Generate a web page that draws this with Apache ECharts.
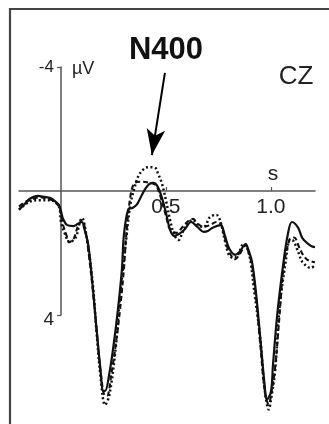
<!DOCTYPE html>
<html>
<head>
<meta charset="utf-8">
<script src="https://cdn.jsdelivr.net/npm/echarts@6/dist/echarts.min.js"></script>
<style>
html,body{margin:0;padding:0;background:#fff;}
#chart{width:329px;height:424px;}
</style>
</head>
<body>
<div id="chart"></div>
<script>
// time in seconds, amplitude in µV (negative up)
const solidTime = [-0.20,-0.17,-0.15,-0.11,-0.08,-0.05,-0.03,-0.01,0.00,0.01,0.03,0.06,0.08,0.10,0.11,0.13,0.15,0.17,0.19,0.20,0.21,0.23,0.25,0.27,0.29,0.30,0.32,0.34,0.36,0.38,0.40,0.42,0.44,0.46,0.48,0.50,0.52,0.54,0.57,0.59,0.62,0.65,0.68,0.70,0.72,0.76,0.78,0.80,0.83,0.85,0.88,0.89,0.91,0.93,0.95,0.97,0.98,1.00,1.01,1.03,1.06,1.08,1.10,1.13,1.15,1.19,1.21];
const solidUV   = [0.6,0.4,0.26,0.16,0.19,0.23,0.32,0.45,0.65,0.9,1.1,1.13,1.06,1.0,1.19,1.74,3.0,4.5,5.9,6.45,6.45,5.9,5.0,3.9,2.55,1.4,0.6,0.55,0.45,0.2,-0.05,-0.22,-0.26,-0.15,0.2,0.7,1.26,1.45,1.35,1.23,1.0,1.16,1.32,1.29,1.19,1.1,1.42,1.84,2.06,1.97,1.71,1.84,2.29,3.35,4.8,6.26,6.74,6.48,5.6,4.0,2.29,1.42,1.0,1.19,1.52,1.77,1.81];

const dashedTime = [-0.20,-0.17,-0.13,-0.10,-0.07,-0.04,-0.01,0.01,0.03,0.04,0.06,0.08,0.10,0.12,0.13,0.15,0.17,0.19,0.21,0.22,0.24,0.26,0.28,0.30,0.31,0.33,0.35,0.38,0.42,0.45,0.47,0.50,0.52,0.55,0.58,0.61,0.63,0.65,0.68,0.71,0.74,0.76,0.78,0.80,0.83,0.85,0.88,0.89,0.91,0.93,0.95,0.97,0.99,1.00,1.02,1.04,1.06,1.09,1.11,1.14,1.17,1.21];
const dashedUV   = [0.5,0.35,0.25,0.2,0.25,0.3,0.5,1.1,1.5,1.65,1.55,1.15,0.95,1.4,1.9,3.1,4.5,5.9,6.6,6.6,5.9,5.0,3.9,2.5,1.5,0.2,-0.25,-0.3,-0.27,-0.2,0.1,0.8,1.25,1.35,1.15,0.95,0.9,1.05,1.15,1.1,1.0,1.05,1.5,1.95,2.2,2.05,1.75,1.9,2.4,3.5,5.0,6.4,6.9,6.6,5.7,4.1,2.5,1.55,1.5,1.9,2.2,2.3];

const dottedTime = [-0.20,-0.15,-0.11,-0.05,-0.01,0.00,0.02,0.04,0.07,0.09,0.10,0.12,0.15,0.17,0.19,0.21,0.23,0.26,0.28,0.31,0.33,0.35,0.37,0.40,0.42,0.45,0.46,0.48,0.50,0.52,0.54,0.56,0.58,0.60,0.63,0.65,0.68,0.71,0.74,0.76,0.78,0.80,0.82,0.84,0.87,0.88,0.90,0.92,0.95,0.97,0.99,1.00,1.02,1.04,1.07,1.09,1.10,1.13,1.15,1.19,1.21];
const dottedUV   = [0.6,0.35,0.3,0.3,0.5,1.0,1.4,1.65,1.5,1.0,0.87,1.4,2.9,4.6,6.1,6.9,6.6,5.1,3.5,1.6,0.45,-0.1,-0.5,-0.74,-0.77,-0.74,-0.6,-0.26,0.3,0.95,1.42,1.58,1.32,1.06,0.94,1.1,1.16,0.84,0.77,1.0,1.58,2.06,2.16,2.1,1.71,1.74,2.16,3.2,4.8,6.4,7.05,6.74,5.8,3.84,2.29,1.58,1.58,1.97,2.29,2.48,2.4];

const xTickValues = [0.5, 1.0];
const yTickValues = [-4, 4];

function zip(t, v) { return t.map((x, i) => [x, v[i]]); }

const chart = echarts.init(document.getElementById('chart'), null, {renderer: 'canvas'});
const FONT = '"Liberation Sans", Arial, Helvetica, sans-serif';
const lineCol = '#111';

const G = {left: 19, right: 14, top: 67, bottom: 109};
const W = 329, H = 424;
const xMin = -0.2, xMax = 1.21, yMin = -4, yMax = 4;
// shift the axes so that they cross at (0 s, 0 µV)
const plotW = W - G.left - G.right, plotH = H - G.top - G.bottom;
const yAxisShift = (0 - xMin) / (xMax - xMin) * plotW;
const xAxisShift = (yMax - 0) / (yMax - yMin) * plotH;

chart.setOption({
  backgroundColor: '#fff',
  animation: false,
  grid: {left: G.left, right: G.right, top: G.top, bottom: G.bottom, containLabel: false},
  xAxis: {
    type: 'value', min: xMin, max: xMax, position: 'bottom', offset: -xAxisShift,
    splitLine: {show: false},
    axisLine: {onZero: false, lineStyle: {color: '#555', width: 1.5}},
    axisTick: {show: true, inside: true, length: 4, customValues: xTickValues, lineStyle: {color: '#555', width: 1.2}},
    axisLabel: {show: true, customValues: xTickValues, formatter: v => v.toFixed(1), fontSize: 21, color: '#222', fontFamily: FONT, margin: 6}
  },
  yAxis: {
    type: 'value', inverse: true, min: yMin, max: yMax, interval: 4, position: 'left', offset: -yAxisShift,
    splitLine: {show: false},
    axisLine: {onZero: false, lineStyle: {color: '#555', width: 1.5}},
    axisTick: {show: true, length: 4, customValues: yTickValues, lineStyle: {color: '#555', width: 1.2}},
    axisLabel: {
      show: true, customValues: yTickValues, margin: 7, fontFamily: FONT, color: '#222',
      formatter: v => v < 0 ? '{a|' + v + '}' : '{b|' + v + '}',
      rich: {
        a: {fontSize: 17, color: '#222', fontFamily: FONT},
        b: {fontSize: 19, color: '#222', fontFamily: FONT, padding: [10, 0, 0, 0]}
      }
    }
  },
  series: [
    {
      name: 'solid', type: 'line', data: zip(solidTime, solidUV), showSymbol: false, smooth: 0.35, clip: false,
      lineStyle: {color: lineCol, width: 2.2},
      markLine: {
        silent: true, animation: false,
        label: {show: false},
        lineStyle: {color: '#000', width: 2, type: 'solid'},
        symbolSize: [14, 26],
        data: [[{coord: [0.495, -3.81], symbol: 'none'}, {coord: [0.433, -1.16], symbol: 'arrow'}]]
      }
    },
    {
      name: 'dashed', type: 'line', data: zip(dashedTime, dashedUV), showSymbol: false, smooth: 0.35, clip: false,
      lineStyle: {color: lineCol, width: 2.1, type: [5, 3]}
    },
    {
      name: 'dotted', type: 'line', data: zip(dottedTime, dottedUV), showSymbol: false, smooth: 0.35, clip: false,
      lineStyle: {color: lineCol, width: 2.5, type: [2, 2.5]}
    }
  ],
  graphic: [
    {type: 'rect', shape: {x: 10, y: 9, width: 340, height: 440}, style: {fill: 'none', stroke: '#444', lineWidth: 2.2}, silent: true},
    {type: 'text', x: 166, y: 50, style: {text: 'N400', font: 'bold 31px ' + FONT, fill: '#111', textAlign: 'center', textVerticalAlign: 'middle'}},
    {type: 'text', x: 296, y: 77, style: {text: 'CZ', font: '26px ' + FONT, fill: '#222', textAlign: 'center', textVerticalAlign: 'middle'}},
    {type: 'text', x: 72, y: 69, style: {text: 'µV', font: '18px ' + FONT, fill: '#222', textAlign: 'left', textVerticalAlign: 'middle'}},
    {type: 'text', x: 273, y: 174, style: {text: 's', font: '21px ' + FONT, fill: '#222', textAlign: 'center', textVerticalAlign: 'middle'}}
  ]
});
</script>
</body>
</html>
